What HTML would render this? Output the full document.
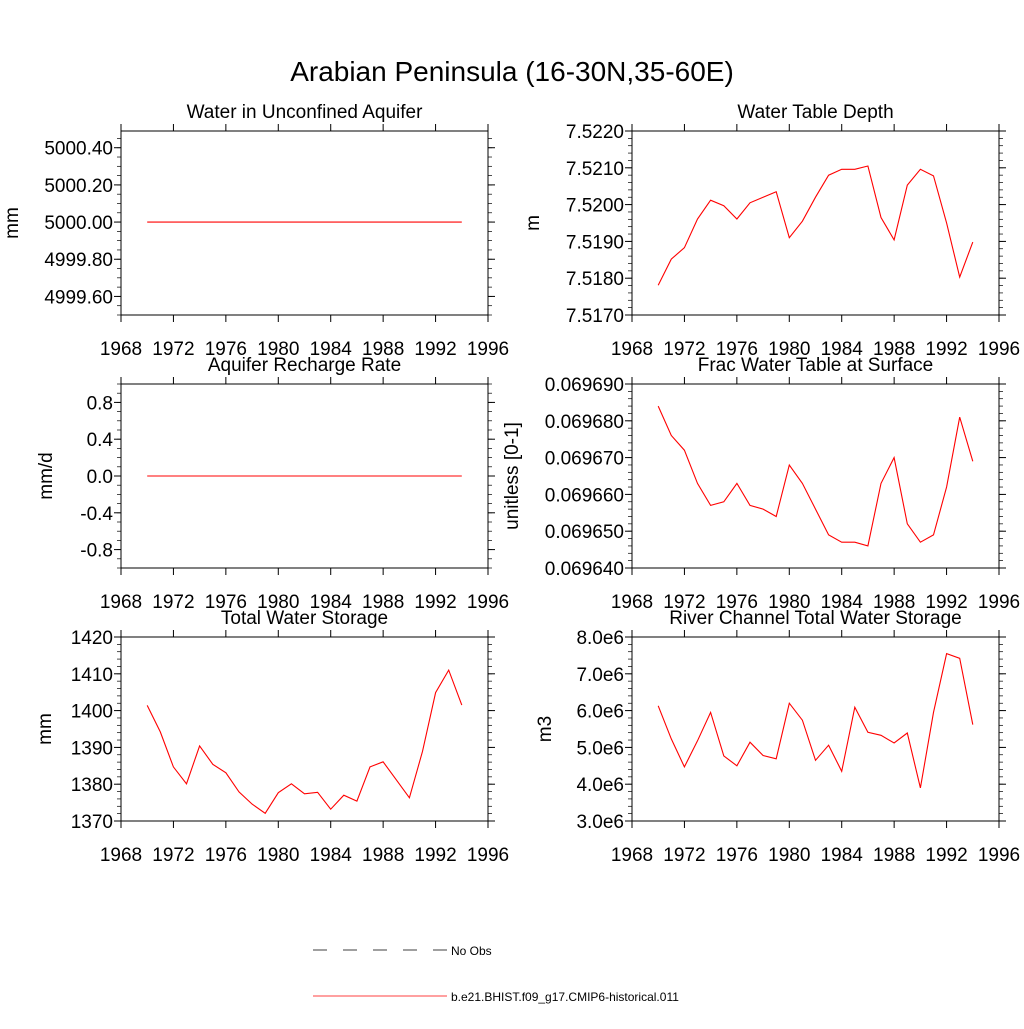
<!DOCTYPE html>
<html><head><meta charset="utf-8"><style>
body{margin:0;background:#fff;}
svg text{font-family:"Liberation Sans",sans-serif;fill:#000;}
</style></head><body>
<svg id="chart" width="1024" height="1024" xmlns="http://www.w3.org/2000/svg">
<rect width="1024" height="1024" fill="#fff"/>
<text x="512" y="81" font-size="28" text-anchor="middle">Arabian Peninsula (16-30N,35-60E)</text>
<g>
<line x1="313" y1="950" x2="447" y2="950" stroke="#000" stroke-width="0.8" stroke-dasharray="14,16"/>
<text x="451" y="955" font-size="12">No Obs</text>
<line x1="313" y1="996" x2="447" y2="996" stroke="#f00" stroke-width="0.8"/>
<text x="451" y="1001" font-size="12">b.e21.BHIST.f09_g17.CMIP6-historical.011</text>
</g>
</svg>
<script>
const years = [1970,1971,1972,1973,1974,1975,1976,1977,1978,1979,1980,1981,1982,1983,1984,1985,1986,1987,1988,1989,1990,1991,1992,1993,1994];
const xTicks = [1968,1972,1976,1980,1984,1988,1992,1996];
const aquiferValues = [5000,5000,5000,5000,5000,5000,5000,5000,5000,5000,5000,5000,5000,5000,5000,5000,5000,5000,5000,5000,5000,5000,5000,5000,5000];
const wtdValues = [7.51781,7.51852,7.51883,7.51961,7.52012,7.51997,7.51961,7.52005,7.5202,7.52035,7.5191,7.51955,7.5202,7.5208,7.52096,7.52096,7.52105,7.51965,7.51904,7.52053,7.52096,7.52078,7.5195,7.51803,7.51898];
const rechargeValues = [0,0,0,0,0,0,0,0,0,0,0,0,0,0,0,0,0,0,0,0,0,0,0,0,0];
const fracValues = [0.069684,0.069676,0.069672,0.069663,0.069657,0.069658,0.069663,0.069657,0.069656,0.069654,0.069668,0.069663,0.069656,0.069649,0.069647,0.069647,0.069646,0.069663,0.06967,0.069652,0.069647,0.069649,0.069662,0.069681,0.069669];
const twsValues = [1401.4,1394.2,1384.7,1380.1,1390.4,1385.4,1383.1,1377.9,1374.6,1372.1,1377.7,1380.1,1377.4,1377.8,1373.2,1377,1375.4,1384.7,1386.1,1381.2,1376.3,1388.9,1404.9,1411,1401.5];
const riverValues = [6.13,5.23,4.47,5.18,5.95,4.77,4.5,5.14,4.78,4.69,6.2,5.74,4.65,5.06,4.35,6.09,5.41,5.33,5.12,5.39,3.9,5.95,7.55,7.42,5.62];
const aquiferTicks = ["4999.60","4999.80","5000.00","5000.20","5000.40"];
const wtdTicks = ["7.5170","7.5180","7.5190","7.5200","7.5210","7.5220"];
const rechargeTicks = ["-0.8","-0.4","0.0","0.4","0.8"];
const fracTicks = ["0.069640","0.069650","0.069660","0.069670","0.069680","0.069690"];
const twsTicks = ["1370","1380","1390","1400","1410","1420"];
const riverTicks = ["3.0e6","4.0e6","5.0e6","6.0e6","7.0e6","8.0e6"];

const NS="http://www.w3.org/2000/svg";
const svg=document.getElementById('chart');
function mk(tag,attrs,parent){const e=document.createElementNS(NS,tag);for(const k in attrs)e.setAttribute(k,attrs[k]);parent.appendChild(e);return e;}

const panels=[
 {id:'aquifer',title:'Water in Unconfined Aquifer',unit:'mm',x0:121,y0:131,ymin:4999.5,ymax:5000.49,vals:aquiferValues,ticks:aquiferTicks,tv:[4999.6,4999.8,5000,5000.2,5000.4],minor:4,uc:12},
 {id:'water-table-depth',title:'Water Table Depth',unit:'m',x0:632,y0:131,ymin:7.517,ymax:7.522,vals:wtdValues,ticks:wtdTicks,tv:[7.517,7.518,7.519,7.52,7.521,7.522],minor:5,uc:533},
 {id:'recharge',title:'Aquifer Recharge Rate',unit:'mm/d',x0:121,y0:384,ymin:-1,ymax:1,vals:rechargeValues,ticks:rechargeTicks,tv:[-0.8,-0.4,0,0.4,0.8],minor:4,uc:46},
 {id:'frac-water-table',title:'Frac Water Table at Surface',unit:'unitless [0-1]',x0:632,y0:384,ymin:0.06964,ymax:0.06969,vals:fracValues,ticks:fracTicks,tv:[0.06964,0.06965,0.06966,0.06967,0.06968,0.06969],minor:5,uc:512},
 {id:'total-water-storage',title:'Total Water Storage',unit:'mm',x0:121,y0:637,ymin:1370,ymax:1420,vals:twsValues,ticks:twsTicks,tv:[1370,1380,1390,1400,1410,1420],minor:5,uc:45},
 {id:'river-storage',title:'River Channel Total Water Storage',unit:'m3',x0:632,y0:637,ymin:3,ymax:8,vals:riverValues,ticks:riverTicks,tv:[3,4,5,6,7,8],minor:5,uc:545}
];
const W=367,H=184;
panels.forEach(p=>{
 const g=mk('g',{},svg);
 
 
 const xs=v=>p.x0+(v-1968)/(1996-1968)*W;
 const ys=v=>p.y0+H-(v-p.ymin)/(p.ymax-p.ymin)*H;
 const t=mk('text',{x:p.x0+W/2,y:p.y0-13,'font-size':19,'text-anchor':'middle'},g);
 
 
 t.textContent=p.title;
 const r=mk('rect',{x:p.x0,y:p.y0,width:W,height:H,fill:'none',stroke:'#000','stroke-width':1},g);
 
 
 xTicks.forEach(yr=>{
  const x=xs(yr);
  mk('line',{x1:x,y1:p.y0+H,x2:x,y2:p.y0+H+7,stroke:'#000'},g);
  mk('line',{x1:x,y1:p.y0,x2:x,y2:p.y0-7,stroke:'#000'},g);
  const l=mk('text',{x:x,y:p.y0+H+40,'font-size':19,'text-anchor':'middle'},g);
  
  
  l.textContent=yr;
 });
 const step=p.tv[1]-p.tv[0];
 const ms=step/p.minor;
 for(let v=p.tv[0]-step;v<=p.ymax+1e-12;v+=ms){
  if(v<p.ymin-1e-12)continue;
  const y=ys(v);
  mk('line',{x1:p.x0,y1:y,x2:p.x0-4,y2:y,stroke:'#000','stroke-width':0.7},g);
  mk('line',{x1:p.x0+W,y1:y,x2:p.x0+W+4,y2:y,stroke:'#000','stroke-width':0.7},g);
 }
 p.tv.forEach((v,i)=>{
  const y=ys(v);
  mk('line',{x1:p.x0,y1:y,x2:p.x0-7,y2:y,stroke:'#000'},g);
  mk('line',{x1:p.x0+W,y1:y,x2:p.x0+W+7,y2:y,stroke:'#000'},g);
  const l=mk('text',{x:p.x0-8,y:y+7,'font-size':19,'text-anchor':'end'},g);
  
  
  l.textContent=p.ticks[i];
 });
 const cy=p.y0+H/2;
 const ut=mk('text',{x:p.uc+6,y:cy,'font-size':19,'text-anchor':'middle',transform:'rotate(-90 '+(p.uc+6)+' '+cy+')'},g);
 
 
 ut.textContent=p.unit;
 const pts=years.map((yr,i)=>xs(yr).toFixed(1)+','+ys(p.vals[i]).toFixed(1)).join(' ');
 const pl=mk('polyline',{points:pts,fill:'none',stroke:'#f00','stroke-width':1.1},g);
 
 
});
</script>
</body></html>
